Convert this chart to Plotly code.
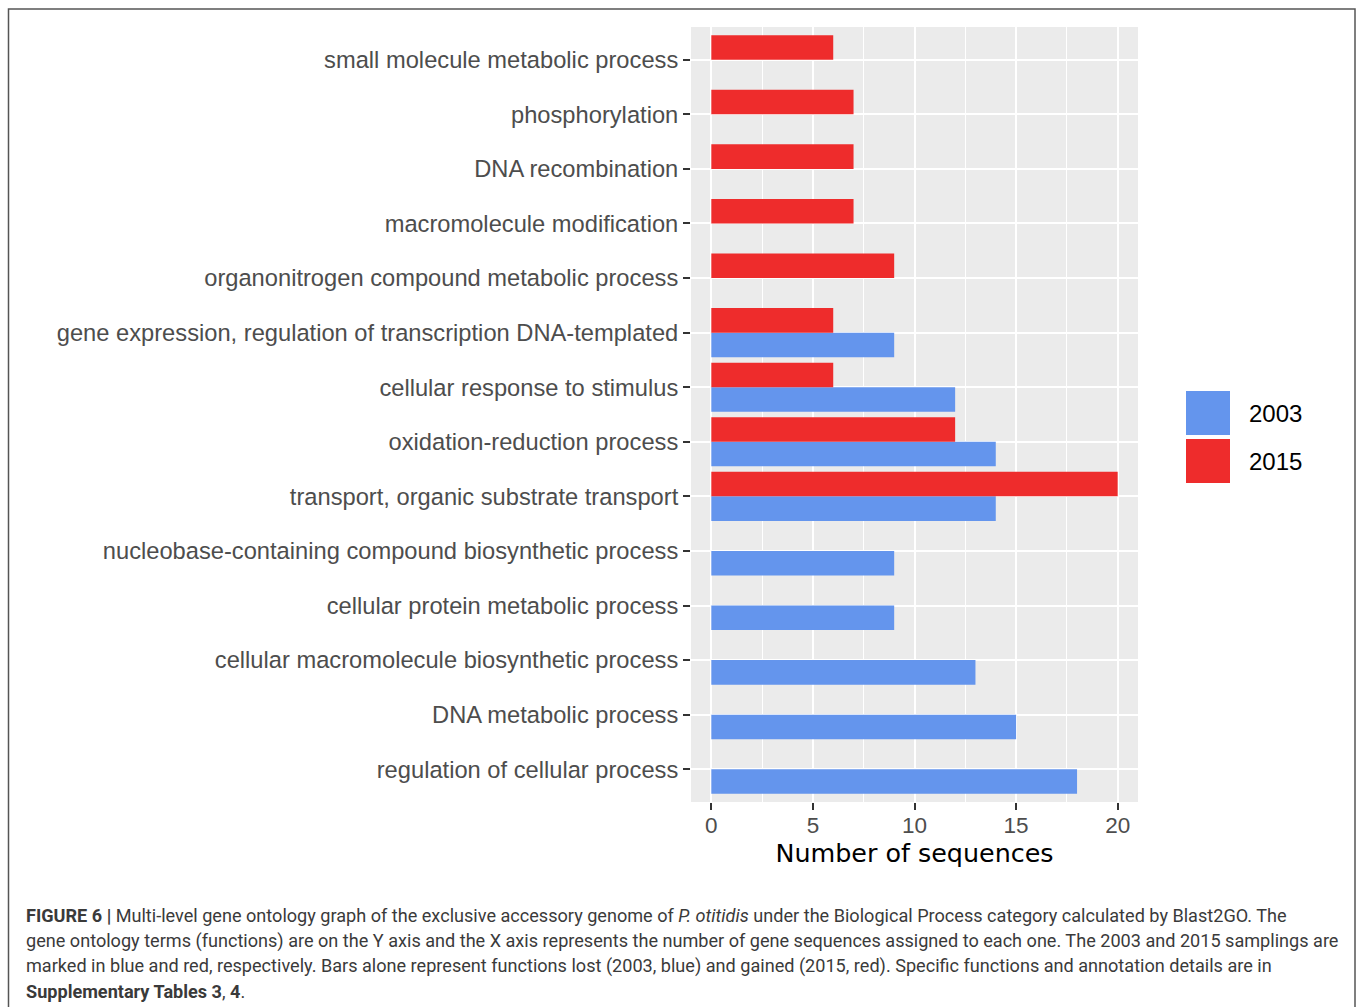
import plotly.graph_objects as go

# ---- data (bottom to top) ----
categories = [
    "regulation of cellular process",
    "DNA metabolic process",
    "cellular macromolecule biosynthetic process",
    "cellular protein metabolic process",
    "nucleobase-containing compound biosynthetic process",
    "transport, organic substrate transport",
    "oxidation-reduction process",
    "cellular response to stimulus",
    "gene expression, regulation of transcription DNA-templated",
    "organonitrogen compound metabolic process",
    "macromolecule modification",
    "DNA recombination",
    "phosphorylation",
    "small molecule metabolic process",
]
values_2003 = [18, 15, 13, 9, 9, 14, 14, 12, 9, None, None, None, None, None]
values_2015 = [None, None, None, None, None, 20, 12, 6, 6, 9, 7, 7, 7, 6]
series_names = ["2003", "2015"]
x_ticks = [0, 5, 10, 15, 20]

BLUE = "#6495ED"
RED = "#EE2C2C"

W, H = 1358, 1007
L, R, T, B = 691, 1138, 27, 802  # plot panel in pixels


def px(xp):
    return (xp - L) / (R - L)


def py(yp):
    return (B - yp) / (B - T)


fig = go.Figure()
fig.add_trace(go.Bar(y=categories, x=values_2003, orientation="h", name=series_names[0],
                     marker=dict(color=BLUE, line=dict(width=0))))
fig.add_trace(go.Bar(y=categories, x=values_2015, orientation="h", name=series_names[1],
                     marker=dict(color=RED, line=dict(width=0))))

axis_font = dict(family="Liberation Sans, Arial, sans-serif", size=23.7, color="#4D4D4D")

fig.update_layout(
    width=W, height=H,
    margin=dict(l=L, r=W - R, t=T, b=H - B),
    paper_bgcolor="white",
    plot_bgcolor="#EBEBEB",
    barmode="group", bargap=0.1, bargroupgap=0,
    showlegend=False,
    xaxis=dict(
        range=[-1, 21], tickvals=x_ticks, ticktext=[str(v) for v in x_ticks],
        showgrid=True, gridcolor="white", gridwidth=1.5, zeroline=False,
        minor=dict(dtick=2.5, tick0=0, showgrid=True, gridcolor="white", gridwidth=0.7),
        ticks="outside", ticklen=7, tickwidth=2, tickcolor="#333333",
        tickfont=dict(family="Liberation Sans, Arial, sans-serif", size=22.5, color="#4D4D4D"),
        ticklabelstandoff=-4,
        showline=False,
        title=dict(text="Number of sequences",
                   font=dict(family="DejaVu Sans, Verdana, sans-serif", size=25.4, color="black"),
                   standoff=2),
    ),
    yaxis=dict(
        type="category", categoryorder="array", categoryarray=categories,
        range=[-0.6, len(categories) - 0.4],
        showgrid=True, gridcolor="white", gridwidth=1.5, zeroline=False,
        ticks="outside", ticklen=7, tickwidth=2, tickcolor="#333333",
        tickfont=axis_font, showline=False,
    ),
)

# ---- legend (drawn manually to match large ggplot keys) ----
legend_items = [(series_names[0], BLUE, 391, 435), (series_names[1], RED, 439, 483)]
for name, col, y0, y1 in legend_items:
    fig.add_shape(type="rect", xref="paper", yref="paper",
                  x0=px(1186), x1=px(1230), y0=py(y1), y1=py(y0),
                  fillcolor=col, line=dict(width=0))
    fig.add_annotation(xref="paper", yref="paper", x=px(1247), y=py((y0 + y1) / 2),
                       xanchor="left", yanchor="middle", showarrow=False, text=name,
                       font=dict(family="Liberation Sans, Arial, sans-serif", size=24, color="black"))

# ---- figure border ----
fig.add_shape(type="rect", xref="paper", yref="paper",
              x0=px(8.5), x1=px(1355), y0=py(1015), y1=py(9),
              line=dict(color="#555555", width=1.5), fillcolor="rgba(0,0,0,0)", layer="below")

# ---- caption ----
caption_lines = [
    "<b>FIGURE 6 |</b> Multi-level gene ontology graph of the exclusive accessory genome of <i>P. otitidis</i> under the Biological Process category calculated by Blast2GO. The",
    "gene ontology terms (functions) are on the Y axis and the X axis represents the number of gene sequences assigned to each one. The 2003 and 2015 samplings are",
    "marked in blue and red, respectively. Bars alone represent functions lost (2003, blue) and gained (2015, red). Specific functions and annotation details are in",
    "<b>Supplementary Tables 3</b>, <b>4</b>.",
]
caption_y = [915, 941, 966, 991]
for line, yc in zip(caption_lines, caption_y):
    fig.add_annotation(xref="paper", yref="paper", x=px(24), y=py(yc),
                       xanchor="left", yanchor="middle", showarrow=False, text=line,
                       font=dict(family="Liberation Sans Narrow, Roboto, sans-serif", size=18.1, color="#3a3a3a"))

fig.write_html("out.html",
               config={"displayModeBar": False},
               post_script="document.body.style.margin='0';document.body.style.overflow='hidden';")
